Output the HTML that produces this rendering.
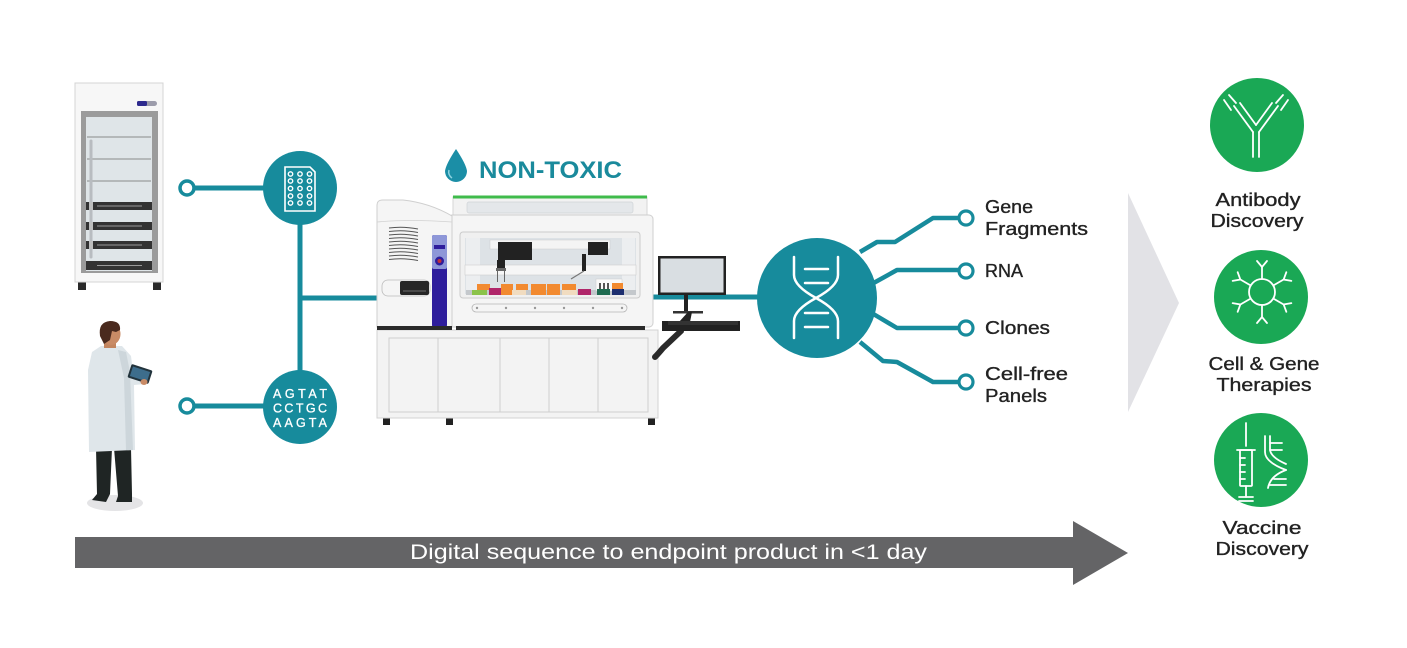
<!DOCTYPE html>
<html><head><meta charset="utf-8"><style>
html,body{margin:0;padding:0;background:#fff;}
svg{display:block;}
text{font-family:"Liberation Sans",sans-serif;}
</style></head><body>
<svg width="1407" height="648" viewBox="0 0 1407 648" xmlns="http://www.w3.org/2000/svg">
<rect width="1407" height="648" fill="#fff"/>

<!-- Fridge -->
<rect x="78" y="280" width="8" height="10" fill="#2a2a2a"/>
<rect x="153" y="280" width="8" height="10" fill="#2a2a2a"/>
<rect x="75" y="83" width="88" height="199" fill="#f7f7f7" stroke="#d4d4d4" stroke-width="1"/>
<rect x="137" y="101" width="20" height="5" rx="2.5" fill="#9c9cab"/>
<rect x="137" y="101" width="10" height="5" rx="1.5" fill="#2e2a8e"/>
<rect x="81" y="111" width="77" height="162" fill="#9b9b9b"/>
<rect x="86" y="117" width="66" height="154" fill="#dfe5e8"/>
<line x1="87" y1="137" x2="151" y2="137" stroke="#8a8a8a" stroke-width="1"/>
<line x1="87" y1="159" x2="151" y2="159" stroke="#8a8a8a" stroke-width="1"/>
<line x1="87" y1="181" x2="151" y2="181" stroke="#8a8a8a" stroke-width="1"/>
<g fill="#333">
<rect x="86" y="202" width="66" height="8"/>
<rect x="86" y="222" width="66" height="8"/>
<rect x="86" y="241" width="66" height="8"/>
<rect x="86" y="261" width="66" height="9"/>
</g>
<g stroke="#9a9a9a" stroke-width="1">
<line x1="97" y1="206" x2="142" y2="206"/>
<line x1="97" y1="226" x2="142" y2="226"/>
<line x1="97" y1="245" x2="142" y2="245"/>
<line x1="97" y1="265.5" x2="142" y2="265.5"/>
</g>
<line x1="91" y1="141" x2="91" y2="257" stroke="#b8bcc0" stroke-width="3" stroke-linecap="round"/>
<g fill="#bdbdbd"><rect x="89" y="202" width="4" height="8"/><rect x="89" y="222" width="4" height="8"/><rect x="89" y="241" width="4" height="8"/></g>

<!-- Person -->
<ellipse cx="115" cy="503" rx="28" ry="8" fill="#e4e4e6"/>
<path d="M96 448 L97 494 L92 500 L106 502 L110 494 L112 448 Z" fill="#1f2524"/>
<path d="M114 448 L118 496 L116 502 L132 502 L132 494 L131 448 Z" fill="#1f2524"/>
<path d="M101 346 L92 352 L88 370 L89 452 L135 450 L134 385 L145 384 L147 376 L133 372 L131 356 L122 346 Z" fill="#dfe6ea"/>
<path d="M118 350 L126 352 L130 372 L133 450 L126 450 L124 378 Z" fill="#cdd6db"/>
<rect x="104" y="338" width="12" height="10" fill="#c3855f"/>
<ellipse cx="111" cy="334" rx="9.5" ry="11" fill="#c98b66"/>
<path d="M100 336 Q98 322 110 321 Q121 321 120 330 L116 332 L112 331 L110 340 L104 344 Z" fill="#4a2a1e"/>
<g transform="rotate(18 140 374)"><rect x="129" y="367" width="22" height="14" rx="1.5" fill="#22333c"/><rect x="131" y="369" width="18" height="10" fill="#3d6d8c"/></g>
<ellipse cx="144" cy="382" rx="3.5" ry="3" fill="#c98b66"/>

<!-- Left connectors -->
<g stroke="#178b9c" stroke-width="5" fill="none">
<line x1="194" y1="188" x2="265" y2="188"/>
<line x1="194" y1="406" x2="265" y2="406"/>
<line x1="300" y1="222" x2="300" y2="372"/>
<line x1="300" y1="298" x2="380" y2="298"/>
<line x1="650" y1="297" x2="760" y2="297"/>
</g>
<circle cx="187" cy="188" r="7" fill="#fff" stroke="#178b9c" stroke-width="3.5"/>
<circle cx="187" cy="406" r="7" fill="#fff" stroke="#178b9c" stroke-width="3.5"/>
<circle cx="300" cy="188" r="37" fill="#178b9c"/>
<circle cx="300" cy="407" r="37" fill="#178b9c"/>
<!-- plate icon -->
<path d="M285 167 H310 L315 172 V211 H285 Z" fill="none" stroke="#fff" stroke-width="1.6"/>
<g fill="none" stroke="#fff" stroke-width="1.4">
<circle cx="290.5" cy="174" r="2.2"/><circle cx="300" cy="174" r="2.2"/><circle cx="309.5" cy="174" r="2.2"/>
<circle cx="290.5" cy="181" r="2.2"/><circle cx="300" cy="181" r="2.2"/><circle cx="309.5" cy="181" r="2.2"/>
<circle cx="290.5" cy="188.5" r="2.2"/><circle cx="300" cy="188.5" r="2.2"/><circle cx="309.5" cy="188.5" r="2.2"/>
<circle cx="290.5" cy="196" r="2.2"/><circle cx="300" cy="196" r="2.2"/><circle cx="309.5" cy="196" r="2.2"/>
<circle cx="290.5" cy="203" r="2.2"/><circle cx="300" cy="203" r="2.2"/><circle cx="309.5" cy="203" r="2.2"/>
</g>
<g fill="#fff" font-size="12.5" text-anchor="middle" stroke="#fff" stroke-width="0.3">
<text x="300" y="398" textLength="54" lengthAdjust="spacing">AGTAT</text>
<text x="300" y="412.5" textLength="54" lengthAdjust="spacing">CCTGC</text>
<text x="300" y="427" textLength="54" lengthAdjust="spacing">AAGTA</text>
</g>

<!-- NON-TOXIC -->
<path d="M456 149 Q446 164 445 171 A11 11 0 0 0 467 171 Q466 164 456 149 Z" fill="#1b8ea6"/>
<path d="M449 170 A7 7 0 0 0 452 178" fill="none" stroke="#8fd3e0" stroke-width="1.5"/>
<text x="479" y="178" font-size="24" font-weight="bold" fill="#1a8a9c" textLength="143" lengthAdjust="spacingAndGlyphs">NON-TOXIC</text>

<!-- Instrument -->
<g fill="#222"><rect x="383" y="417" width="7" height="8"/><rect x="446" y="417" width="7" height="8"/><rect x="648" y="417" width="7" height="8"/></g>
<rect x="377" y="330" width="281" height="88" fill="#f3f3f3" stroke="#d3d3d3"/>
<rect x="389" y="338" width="259" height="74" fill="#f3f3f3" stroke="#cfcfcf"/>
<g stroke="#cfcfcf"><line x1="438" y1="338" x2="438" y2="412"/><line x1="500" y1="338" x2="500" y2="412"/><line x1="549" y1="338" x2="549" y2="412"/><line x1="598" y1="338" x2="598" y2="412"/></g>
<rect x="453" y="197" width="194" height="20" fill="#f2f2f2" stroke="#d5d5d5"/>
<rect x="453" y="195.5" width="194" height="3" fill="#3fbb4b"/>
<rect x="467" y="202" width="166" height="11" rx="2" fill="#e4e7ea" stroke="#cfd3d6" stroke-width="0.7"/>
<rect x="448" y="215" width="205" height="112" rx="4" fill="#f5f5f5" stroke="#cfcfcf"/>
<rect x="460" y="232" width="180" height="66" rx="3" fill="#f0f0f0" stroke="#cbcbcb"/>
<rect x="465" y="238" width="171" height="56" fill="#dde2e6"/>
<rect x="466" y="238" width="14" height="56" fill="#eceef0"/>
<rect x="622" y="238" width="13" height="56" fill="#eceef0"/>
<rect x="490" y="240" width="120" height="9" fill="#f4f4f4" stroke="#ccc" stroke-width="0.5"/>
<rect x="465" y="265" width="171" height="10" fill="#f6f6f6" stroke="#cfcfcf" stroke-width="0.6"/>
<rect x="498" y="242" width="34" height="18" fill="#222"/>
<rect x="497" y="260" width="8" height="9" fill="#222"/>
<rect x="496" y="268" width="10" height="3" fill="#666"/>
<line x1="497.5" y1="271" x2="497.5" y2="282" stroke="#666" stroke-width="1"/>
<line x1="504.5" y1="271" x2="504.5" y2="282" stroke="#666" stroke-width="1"/>
<rect x="588" y="242" width="20" height="13" fill="#222"/>
<rect x="582" y="254" width="4" height="17" fill="#222"/>
<line x1="584" y1="271" x2="571" y2="279" stroke="#777" stroke-width="1.2"/>
<rect x="466" y="290" width="170" height="5" fill="#c4c8cc"/>
<g>
<rect x="477" y="284" width="13" height="6" fill="#f28a30"/>
<rect x="472" y="290" width="15" height="5" fill="#8bc34a"/>
<rect x="489" y="288" width="14" height="7" fill="#b0266a"/>
<rect x="501" y="284" width="12" height="11" fill="#f28a30"/>
<rect x="516" y="284" width="12" height="6" fill="#f28a30"/>
<rect x="512" y="290" width="14" height="5" fill="#f1dcc0"/>
<rect x="531" y="284" width="15" height="11" fill="#f28a30"/>
<rect x="547" y="284" width="13" height="11" fill="#f28a30"/>
<rect x="562" y="284" width="14" height="6" fill="#f28a30"/>
<rect x="562" y="290" width="15" height="5" fill="#f1dcc0"/>
<rect x="578" y="289" width="13" height="6" fill="#b0266a"/>
<rect x="596" y="279" width="26" height="12" fill="#fafafa" stroke="#ccc" stroke-width="0.5"/>
<rect x="599" y="283" width="2" height="6" fill="#555"/><rect x="603" y="283" width="2" height="6" fill="#555"/><rect x="607" y="283" width="2" height="6" fill="#555"/>
<rect x="597" y="289" width="13" height="6" fill="#1e6b50"/>
<rect x="612" y="283" width="11" height="6" fill="#f28a30"/>
<rect x="612" y="289" width="12" height="6" fill="#1e2f70"/>
</g>
<rect x="472" y="304" width="155" height="8" rx="4" fill="none" stroke="#b5b5b5" stroke-width="0.8"/>
<g fill="#999"><circle cx="477" cy="308" r="1.2"/><circle cx="506" cy="308" r="1.2"/><circle cx="535" cy="308" r="1.2"/><circle cx="564" cy="308" r="1.2"/><circle cx="593" cy="308" r="1.2"/><circle cx="622" cy="308" r="1.2"/></g>
<path d="M377 205 Q377 200 383 200 L403 200 Q430 203 452 216 L452 327 L377 327 Z" fill="#f5f5f5" stroke="#cfcfcf"/>
<path d="M377 222 Q410 219 452 222" fill="none" stroke="#d2d2d2" stroke-width="0.8"/>
<g fill="none" stroke="#555" stroke-width="1">
<path d="M389 228 Q403 226 418 229"/><path d="M389 231.5 Q403 229.5 418 232.5"/><path d="M389 235 Q403 233 418 236"/><path d="M389 238.5 Q403 236.5 418 239.5"/><path d="M389 242 Q403 240 418 243"/><path d="M389 245.5 Q403 243.5 418 246.5"/><path d="M389 249 Q403 247 418 250"/><path d="M389 252.5 Q403 250.5 418 253.5"/><path d="M389 256 Q403 254 418 257"/><path d="M389 259.5 Q403 257.5 418 260.5"/>
</g>
<rect x="382" y="280" width="48" height="16" rx="6" fill="#f5f5f5" stroke="#bbb" stroke-width="0.8"/>
<rect x="400" y="281" width="29" height="14" rx="2" fill="#262626"/>
<line x1="403" y1="291" x2="426" y2="291" stroke="#888" stroke-width="0.8"/>
<rect x="432" y="235" width="15" height="92" rx="2" fill="#2e1d9c"/>
<rect x="432" y="235" width="15" height="34" rx="2" fill="#8e97d8"/>
<rect x="434" y="245" width="11" height="4" fill="#2e1d9c"/>
<circle cx="439.5" cy="261" r="4.5" fill="#2e1d9c"/>
<circle cx="439.5" cy="261" r="2" fill="#c0303a"/>
<rect x="377" y="326" width="75" height="4" fill="#2a2a2a"/>
<rect x="456" y="326" width="189" height="4" fill="#2a2a2a"/>
<!-- monitor -->
<path d="M681 331 L663 348 Q658 354 655 357" fill="none" stroke="#2a2a2a" stroke-width="6" stroke-linecap="round"/>
<rect x="658" y="256" width="68" height="39" fill="#222"/>
<rect x="660.5" y="258.5" width="63" height="34" fill="#d9dee2"/>
<rect x="684" y="295" width="4" height="17" fill="#222"/>
<rect x="673" y="311" width="30" height="2.5" fill="#333"/>
<path d="M679 322 L688 312 L692 312 L690 322 Z" fill="#222"/>
<rect x="662" y="321" width="78" height="10" fill="#222"/>
<rect x="668" y="321" width="70" height="4" fill="#333"/>

<!-- DNA circle & branches -->
<g stroke="#178b9c" stroke-width="4.5" fill="none" stroke-linejoin="round">
<polyline points="860,252 877,242 895,242 933,218 961,218"/>
<polyline points="870,285 897,270 961,270"/>
<polyline points="870,312 897,328 961,328"/>
<polyline points="860,342 883,361 897,362 933,382 961,382"/>
</g>
<circle cx="817" cy="298" r="60" fill="#178b9c"/>
<g fill="none" stroke="#fff" stroke-width="2.5" stroke-linecap="round">
<path d="M794 257 V275 Q794 286 816 298 Q838 310 838 321 V338"/>
<path d="M838 257 V275 Q838 286 816 298 Q794 310 794 321 V338"/>
<line x1="805" y1="269" x2="828" y2="269"/>
<line x1="805" y1="283" x2="828" y2="283"/>
<line x1="805" y1="313" x2="828" y2="313"/>
<line x1="805" y1="327" x2="828" y2="327"/>
</g>
<g fill="#fff" stroke="#178b9c" stroke-width="3.2">
<circle cx="966" cy="218" r="7"/><circle cx="966" cy="271" r="7"/><circle cx="966" cy="328" r="7"/><circle cx="966" cy="382" r="7"/>
</g>
<g fill="#222" font-size="18" stroke="#222" stroke-width="0.35">
<text x="985" y="213" textLength="48" lengthAdjust="spacingAndGlyphs">Gene</text>
<text x="985" y="235" textLength="103" lengthAdjust="spacingAndGlyphs">Fragments</text>
<text x="985" y="277" textLength="38" lengthAdjust="spacingAndGlyphs">RNA</text>
<text x="985" y="334" textLength="65" lengthAdjust="spacingAndGlyphs">Clones</text>
<text x="985" y="380" textLength="83" lengthAdjust="spacingAndGlyphs">Cell-free</text>
<text x="985" y="402" textLength="62" lengthAdjust="spacingAndGlyphs">Panels</text>
</g>

<!-- chevron -->
<polygon points="1128,193 1179,303 1128,412" fill="#e2e2e6"/>

<!-- green circles -->
<circle cx="1257" cy="125" r="47" fill="#1aa855"/>
<circle cx="1261" cy="297" r="47" fill="#1aa855"/>
<circle cx="1261" cy="460" r="47" fill="#1aa855"/>
<!-- antibody -->
<g fill="none" stroke="#fff" stroke-width="1.8" stroke-linecap="round">
<line x1="1253" y1="132" x2="1253" y2="157"/>
<line x1="1259" y1="132" x2="1259" y2="157"/>
<line x1="1253" y1="132" x2="1234" y2="106"/>
<line x1="1259" y1="132" x2="1278" y2="106"/>
<line x1="1256" y1="125" x2="1240" y2="103"/>
<line x1="1256" y1="125" x2="1272" y2="103"/>
<line x1="1231" y1="110" x2="1224" y2="100"/>
<line x1="1281" y1="110" x2="1288" y2="100"/>
<line x1="1236" y1="103" x2="1229" y2="95"/>
<line x1="1276" y1="103" x2="1283" y2="95"/>
</g>
<!-- cell icon -->
<g fill="none" stroke="#fff" stroke-width="1.8" stroke-linecap="round">
<circle cx="1262" cy="292" r="13"/>
<g id="sp"><line x1="1262" y1="279" x2="1262" y2="267"/><polyline points="1257,261 1262,267 1267,261"/></g>
<use href="#sp" transform="rotate(60 1262 292)"/>
<use href="#sp" transform="rotate(120 1262 292)"/>
<use href="#sp" transform="rotate(180 1262 292)"/>
<use href="#sp" transform="rotate(240 1262 292)"/>
<use href="#sp" transform="rotate(300 1262 292)"/>
</g>
<!-- vaccine icon -->
<g fill="none" stroke="#fff" stroke-width="1.8" stroke-linecap="round">
<line x1="1246" y1="423" x2="1246" y2="446"/>
<rect x="1240" y="450" width="12" height="36" rx="1"/>
<line x1="1237" y1="450" x2="1255" y2="450"/>
<line x1="1240" y1="458" x2="1245" y2="458"/>
<line x1="1240" y1="465" x2="1245" y2="465"/>
<line x1="1240" y1="472" x2="1245" y2="472"/>
<line x1="1240" y1="479" x2="1245" y2="479"/>
<line x1="1246" y1="486" x2="1246" y2="497"/>
<line x1="1239" y1="497" x2="1253" y2="497"/>
<line x1="1239" y1="501" x2="1253" y2="501"/>
<path d="M1265 436 V452 Q1265 462 1286 470"/>
<path d="M1270 436 V449 Q1270 457 1286 464"/>
<line x1="1270" y1="443" x2="1282" y2="443"/>
<line x1="1270" y1="450" x2="1282" y2="450"/>
<path d="M1286 470 Q1270 476 1268 488"/>
<line x1="1274" y1="479" x2="1286" y2="479"/>
<line x1="1270" y1="485" x2="1286" y2="485"/>
</g>
<g fill="#222" font-size="18" text-anchor="middle" stroke="#222" stroke-width="0.35">
<text x="1258" y="206" textLength="85" lengthAdjust="spacingAndGlyphs">Antibody</text>
<text x="1257" y="227" textLength="93" lengthAdjust="spacingAndGlyphs">Discovery</text>
<text x="1264" y="370" textLength="111" lengthAdjust="spacingAndGlyphs">Cell &amp; Gene</text>
<text x="1264" y="391" textLength="95" lengthAdjust="spacingAndGlyphs">Therapies</text>
<text x="1262" y="534" textLength="79" lengthAdjust="spacingAndGlyphs">Vaccine</text>
<text x="1262" y="555" textLength="93" lengthAdjust="spacingAndGlyphs">Discovery</text>
</g>

<!-- bottom arrow -->
<rect x="75" y="537" width="1000" height="31" fill="#646466"/>
<polygon points="1073,521 1128,553 1073,585" fill="#646466"/>
<text x="410" y="559" font-size="21" fill="#fff" textLength="517" lengthAdjust="spacingAndGlyphs">Digital sequence to endpoint product in &lt;1 day</text>
</svg>
</body></html>
